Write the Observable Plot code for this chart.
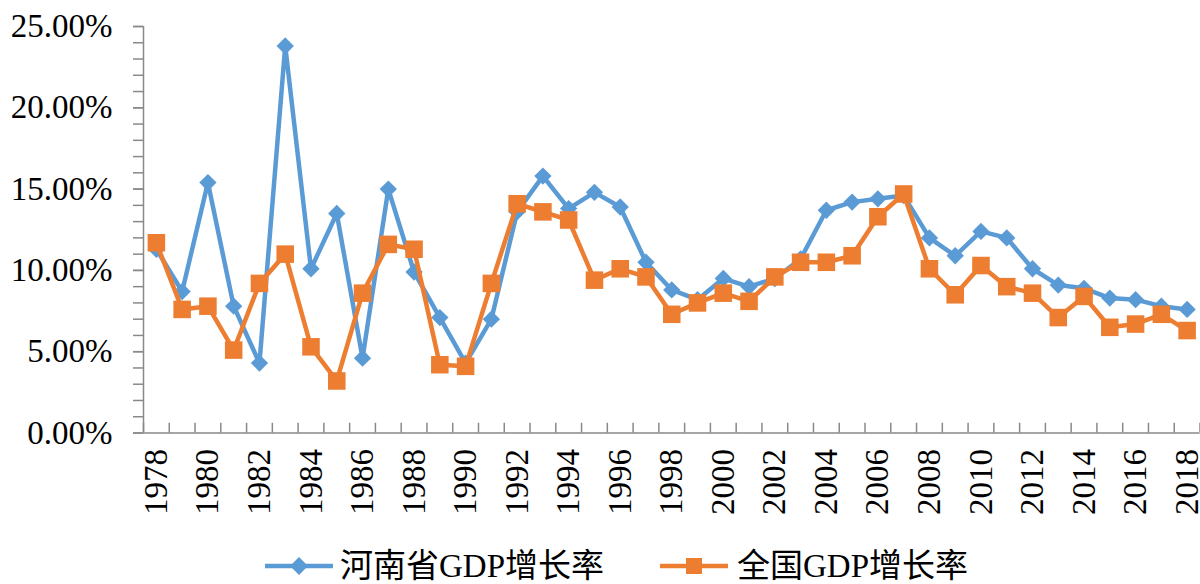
<!DOCTYPE html>
<html>
<head>
<meta charset="utf-8">
<script src="https://cdn.jsdelivr.net/npm/d3@7"></script>
<script src="https://cdn.jsdelivr.net/npm/@observablehq/plot@0.6"></script>
<style>
  html, body { margin: 0; padding: 0; background: #fff; }
  #chart { width: 1200px; }
  .legend { position: relative; height: 36px; width: 1200px; font-family: "Liberation Serif", "Noto Sans CJK SC", serif; font-size: 33px; color: #000; }
  .item { position: absolute; top: 0; height: 36px; display: flex; align-items: center; }
  .item svg { display: block; }
  .item span { line-height: 36px; white-space: nowrap; }
</style>
</head>
<body>
<div id="chart"></div>
<div class="legend">
  <div class="item" style="left:265px"><svg width="68" height="24"><line x1="0" x2="68" y1="12" y2="12" stroke="#5B9BD5" stroke-width="4.5" stroke-linecap="round"/><path d="M34,3L43,12L34,21L25,12Z" fill="#5B9BD5"/></svg><span style="margin-left:7px">河南省GDP增长率</span></div>
  <div class="item" style="left:660px"><svg width="68" height="24"><line x1="0" x2="68" y1="12" y2="12" stroke="#ED7D31" stroke-width="4.5" stroke-linecap="round"/><rect x="26" y="4" width="16" height="16" fill="#ED7D31"/></svg><span style="margin-left:9px">全国GDP增长率</span></div>
</div>
<script>
const years = [1978, 1979, 1980, 1981, 1982, 1983, 1984, 1985, 1986, 1987,
  1988, 1989, 1990, 1991, 1992, 1993, 1994, 1995, 1996, 1997,
  1998, 1999, 2000, 2001, 2002, 2003, 2004, 2005, 2006, 2007,
  2008, 2009, 2010, 2011, 2012, 2013, 2014, 2015, 2016, 2017, 2018];

// 河南省GDP增长率 (%)
const henan = [11.3, 8.7, 15.4, 7.8, 4.3, 23.8, 10.1, 13.5, 4.6, 15.0,
  9.9, 7.1, 4.3, 7.0, 13.6, 15.8, 13.8, 14.8, 13.9, 10.5,
  8.8, 8.2, 9.5, 9.0, 9.5, 10.7, 13.7, 14.2, 14.4, 14.6,
  12.0, 10.9, 12.4, 12.0, 10.1, 9.1, 8.9, 8.3, 8.2, 7.8, 7.6];

// 全国GDP增长率 (%)
const national = [11.7, 7.6, 7.8, 5.1, 9.2, 11.0, 5.3, 3.2, 8.6, 11.6,
  11.3, 4.2, 4.1, 9.2, 14.1, 13.6, 13.1, 9.4, 10.1, 9.6,
  7.3, 8.0, 8.6, 8.1, 9.6, 10.5, 10.5, 10.9, 13.3, 14.7,
  10.1, 8.5, 10.3, 9.0, 8.6, 7.1, 8.4, 6.5, 6.7, 7.3, 6.3];

const yMajorTicks = [0, 5, 10, 15, 20, 25];
const yMinorTicks = [0,1,2,3,4,5,6,7,8,9,10,11,12,13,14,15,16,17,18,19,20,21,22,23,24,25];
const xTickLabels = [1978, 1980, 1982, 1984, 1986, 1988, 1990, 1992, 1994, 1996, 1998,
  2000, 2002, 2004, 2006, 2008, 2010, 2012, 2014, 2016, 2018];

const rowsH = years.map((y, i) => ({year: y, value: henan[i]}));
const rowsN = years.map((y, i) => ({year: y, value: national[i]}));
const boundaries = [years[0] - 0.5, ...years.map(y => y + 0.5)];

const axisColor = "#898989";
const fontFam = "'Liberation Serif', 'Times New Roman', serif";

const chart = Plot.plot({
  width: 1200,
  height: 548,
  marginLeft: 143,
  marginRight: 0.5,
  marginTop: 26,
  marginBottom: 115.5,
  style: {fontFamily: fontFam, fontSize: "33px", color: "#000", background: "#fff"},
  x: {type: "linear", domain: [years[0] - 0.5, years[years.length - 1] + 0.5], label: null},
  y: {domain: [0, 25], label: null},
  marks: [
    Plot.axisY({ticks: yMinorTicks, tickFormat: () => "", tickSize: 10, stroke: axisColor, strokeWidth: 1.5, label: null}),
    Plot.axisY({ticks: yMajorTicks, tickFormat: d => d.toFixed(2) + "%", tickSize: 10, tickPadding: 21, stroke: axisColor, strokeWidth: 1.5, fill: "#000", fontSize: 33, label: null}),
    Plot.axisX({ticks: xTickLabels, tickFormat: d => String(d), tickSize: 0, tickRotate: -90, tickPadding: 16, fill: "#000", fontSize: 33, label: null}),
    Plot.ruleX(boundaries, {y1: 0, y2: 0.6, stroke: axisColor, strokeWidth: 1.5}),
    Plot.ruleX([boundaries[0]], {stroke: axisColor, strokeWidth: 1.5}),
    Plot.ruleY([0], {stroke: axisColor, strokeWidth: 1.5}),
    Plot.line(rowsH, {x: "year", y: "value", stroke: "#5B9BD5", strokeWidth: 4.5, strokeLinejoin: "round"}),
    Plot.dot(rowsH, {x: "year", y: "value", symbol: "diamond2", r: 7.8, fill: "#5B9BD5", stroke: "none"}),
    Plot.line(rowsN, {x: "year", y: "value", stroke: "#ED7D31", strokeWidth: 4.5, strokeLinejoin: "round"}),
    Plot.dot(rowsN, {x: "year", y: "value", symbol: "square", r: 9.9, fill: "#ED7D31", stroke: "none"})
  ]
});
document.getElementById("chart").appendChild(chart);
</script>
</body>
</html>
